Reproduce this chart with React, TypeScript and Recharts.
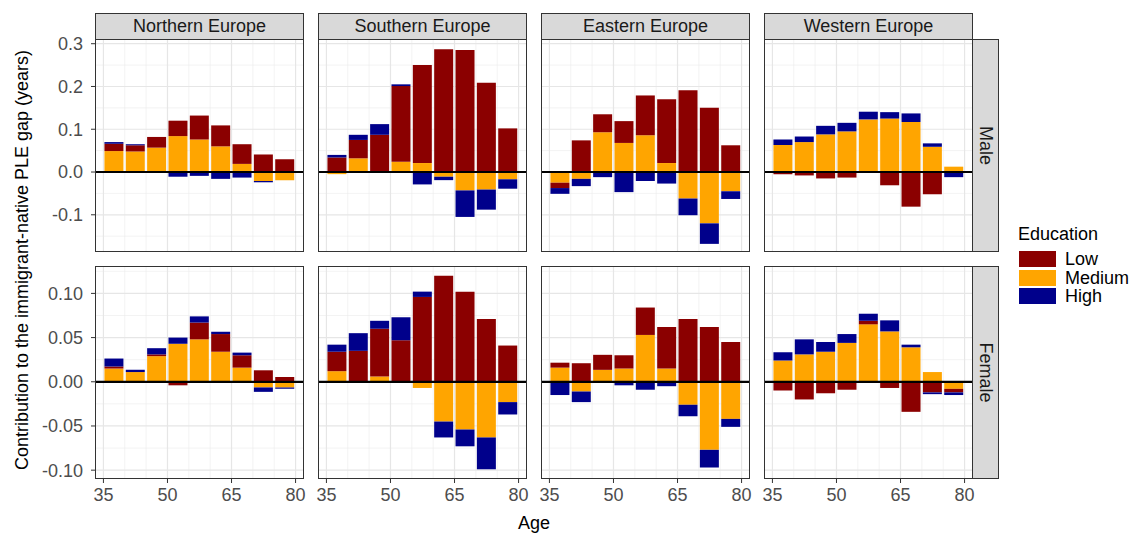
import React from 'react';
import { BarChart, Bar, XAxis, YAxis, CartesianGrid, ReferenceLine } from 'recharts';

const regions = ['Northern Europe', 'Southern Europe', 'Eastern Europe', 'Western Europe'];
const sexes = ['Male', 'Female'];
const ageMids = [37.5, 42.5, 47.5, 52.5, 57.5, 62.5, 67.5, 72.5, 77.5];
const ageTicks = [35, 50, 65, 80];
const educationLevels = ['Low', 'Medium', 'High'];
const maleTicks = [-0.1, 0, 0.1, 0.2, 0.3];
const femaleTicks = [-0.1, -0.05, 0, 0.05, 0.1];

// one row per region: Northern, Southern, Eastern, Western
const maleLow = [
  [0.017, 0.0145, 0.025, 0.036, 0.056, 0.049, 0.046, 0.041, 0.03],
  [0.034, 0.043, 0.087, 0.177, 0.229, 0.287, 0.285, 0.209, 0.102],
  [-0.0125, 0.074, 0.042, 0.051, 0.093, 0.149, 0.191, 0.15, 0.0625],
  [-0.005, -0.008, -0.015, -0.013, -0.002, -0.031, -0.081, -0.052, 0],
];
const maleMedium = [
  [0.049, 0.048, 0.057, 0.084, 0.076, 0.06, 0.019, -0.021, -0.019],
  [-0.005, 0.032, 0, 0.024, 0.021, -0.011, -0.043, -0.041, -0.017],
  [-0.025, -0.016, 0.093, 0.068, 0.086, 0.021, -0.062, -0.12, -0.045],
  [0.063, 0.07, 0.088, 0.095, 0.123, 0.125, 0.117, 0.059, 0.0125],
];
const maleHigh = [
  [0.004, 0.0025, -0.002, -0.011, -0.009, -0.016, -0.013, -0.003, 0],
  [0.006, 0.012, 0.025, 0.004, -0.029, -0.008, -0.062, -0.047, -0.022],
  [-0.0135, -0.017, -0.012, -0.047, -0.021, -0.027, -0.039, -0.048, -0.018],
  [0.013, 0.013, 0.02, 0.02, 0.018, 0.015, 0.02, 0.008, -0.012],
];
const femaleLow = [
  [0.0023, 0, 0.002, -0.004, 0.019, 0.02, 0.014, 0.013, 0.0053],
  [0.022, 0.035, 0.054, 0.047, 0.096, 0.12, 0.102, 0.071, 0.041],
  [0.0056, 0.021, 0.017, 0.015, 0.031, 0.047, 0.071, 0.062, 0.045],
  [-0.01, -0.02, -0.013, -0.009, 0.004, -0.007, -0.034, -0.012, -0.004],
];
const femaleMedium = [
  [0.015, 0.011, 0.029, 0.043, 0.048, 0.034, 0.016, -0.0064, -0.0064],
  [0.012, 0, 0.006, 0, -0.007, -0.045, -0.054, -0.063, -0.023],
  [0.016, -0.011, 0.0135, 0.015, 0.053, 0.015, -0.026, -0.077, -0.042],
  [0.024, 0.031, 0.034, 0.044, 0.065, 0.057, 0.039, 0.011, -0.008],
];
const femaleHigh = [
  [0.009, 0.0026, 0.007, 0.007, 0.007, 0.0026, 0.003, -0.005, -0.0016],
  [0.008, 0.02, 0.009, 0.026, 0.006, -0.018, -0.019, -0.036, -0.014],
  [-0.015, -0.012, 0, -0.004, -0.009, -0.005, -0.013, -0.02, -0.009],
  [0.0094, 0.017, 0.011, 0.01, 0.008, 0.0125, 0.003, -0.002, -0.003],
];

const colors: Record<string, string> = { Low: '#8B0000', Medium: '#FFA500', High: '#00008B' };

const FONT = '"Liberation Sans", Arial, Helvetica, sans-serif';
const PANEL_LEFT = [95, 318, 541, 764];
const PANEL_W = 209;
const ROW_TOP = [39, 266];
const PANEL_H = 213;
const STRIP = 26;
const Y_AXIS_W = 60;
const X_AXIS_H = 34;
const PAD = 14; // room so edge tick labels are not clipped
const X_DOMAIN: [number, number] = [33.025, 81.975];
const Y_DOMAINS: [number, number][] = [[-0.187, 0.311], [-0.11, 0.131]];

const xMajor = [35, 50, 65, 80];
const xMinor = [40, 45, 55, 60, 70, 75];
const yMajor = [maleTicks, femaleTicks];
const yMinor = [[-0.15, -0.05, 0.05, 0.15, 0.25], [-0.075, -0.025, 0.025, 0.075, 0.125]];

function Panel({ row, col }: { row: number; col: number }) {
  const low = row === 0 ? maleLow[col] : femaleLow[col];
  const med = row === 0 ? maleMedium[col] : femaleMedium[col];
  const high = row === 0 ? maleHigh[col] : femaleHigh[col];
  const data = ageMids.map((age, i) => ({ age, Low: low[i], Medium: med[i], High: high[i] }));
  const showY = col === 0;
  const showX = row === 1;
  const w = PANEL_W + (showY ? Y_AXIS_W : 0) + PAD * 2;
  const h = PANEL_H + (showX ? X_AXIS_H : 0) + PAD * 2;

  return (
    <div
      style={{
        position: 'absolute',
        left: PANEL_LEFT[col] - (showY ? Y_AXIS_W : 0) - PAD,
        top: ROW_TOP[row] - PAD,
      }}
    >
      <BarChart width={w} height={h} data={data} stackOffset="sign" margin={{ top: PAD, right: PAD, bottom: PAD, left: PAD }}>
        <CartesianGrid stroke="#EBEBEB" strokeWidth={0.6} horizontalValues={yMinor[row]} verticalValues={xMinor} />
        <CartesianGrid stroke="#E6E6E6" strokeWidth={1.2} horizontalValues={yMajor[row]} verticalValues={xMajor} />
        <XAxis
          type="number"
          dataKey="age"
          domain={X_DOMAIN}
          ticks={ageTicks}
          allowDataOverflow
          hide={!showX}
          height={X_AXIS_H}
          axisLine={false}
          tickSize={4}
          tickMargin={5}
          tickLine={{ stroke: '#333333' }}
          tick={{ fill: '#4D4D4D', fontSize: 18 }}
          interval={0}
        />
        <YAxis
          type="number"
          domain={Y_DOMAINS[row]}
          ticks={row === 0 ? maleTicks : femaleTicks}
          allowDataOverflow
          hide={!showY}
          width={Y_AXIS_W}
          axisLine={false}
          tickSize={4}
          tickMargin={8}
          tickLine={{ stroke: '#333333' }}
          tick={{ fill: '#4D4D4D', fontSize: 18 }}
          interval={0}
          tickFormatter={(v: number) => v.toFixed(row === 0 ? 1 : 2)}
        />
        <Bar dataKey="Medium" stackId="a" fill={colors.Medium} barSize={19} isAnimationActive={false} />
        <Bar dataKey="Low" stackId="a" fill={colors.Low} barSize={19} isAnimationActive={false} />
        <Bar dataKey="High" stackId="a" fill={colors.High} barSize={19} isAnimationActive={false} />
        <ReferenceLine y={0} stroke="#000000" strokeWidth={2.2} />
      </BarChart>
    </div>
  );
}

export default function App() {
  return (
    <div
      style={{
        position: 'absolute',
        left: 0,
        top: 0,
        width: 1133,
        height: 535,
        background: '#ffffff',
        fontFamily: FONT,
        overflow: 'hidden',
      }}
    >
      {sexes.map((_, row) => regions.map((_, col) => <Panel key={`${row}-${col}`} row={row} col={col} />))}

      {/* panel borders */}
      {sexes.map((_, row) =>
        regions.map((_, col) => (
          <div
            key={`b-${row}-${col}`}
            style={{
              position: 'absolute',
              left: PANEL_LEFT[col],
              top: ROW_TOP[row],
              width: PANEL_W,
              height: PANEL_H,
              border: '1px solid #333333',
              boxSizing: 'border-box',
              pointerEvents: 'none',
            }}
          />
        ))
      )}

      {/* top strips */}
      {regions.map((r, col) => (
        <div
          key={r}
          style={{
            position: 'absolute',
            left: PANEL_LEFT[col],
            top: ROW_TOP[0] - STRIP,
            width: PANEL_W,
            height: STRIP + 1,
            background: '#D9D9D9',
            border: '1px solid #333333',
            boxSizing: 'border-box',
            display: 'flex',
            alignItems: 'center',
            justifyContent: 'center',
            fontSize: 18,
            color: '#1A1A1A',
          }}
        >
          {r}
        </div>
      ))}

      {/* right strips */}
      {sexes.map((s, row) => (
        <div
          key={s}
          style={{
            position: 'absolute',
            left: PANEL_LEFT[3] + PANEL_W - 1,
            top: ROW_TOP[row],
            width: STRIP + 1,
            height: PANEL_H,
            background: '#D9D9D9',
            border: '1px solid #333333',
            boxSizing: 'border-box',
            display: 'flex',
            alignItems: 'center',
            justifyContent: 'center',
            fontSize: 18,
            color: '#1A1A1A',
          }}
        >
          <span style={{ transform: 'rotate(90deg)', whiteSpace: 'nowrap' }}>{s}</span>
        </div>
      ))}

      {/* axis titles */}
      <div
        style={{
          position: 'absolute',
          left: 22,
          top: 260,
          transform: 'translate(-50%, -50%) rotate(-90deg)',
          whiteSpace: 'nowrap',
          fontSize: 18,
          color: '#000000',
        }}
      >
        Contribution to the immigrant-native PLE gap (years)
      </div>
      <div
        style={{
          position: 'absolute',
          left: 534,
          top: 523,
          transform: 'translate(-50%, -50%)',
          fontSize: 18,
          color: '#000000',
        }}
      >
        Age
      </div>

      {/* legend */}
      <div style={{ position: 'absolute', left: 1018, top: 224, fontSize: 18, lineHeight: '20px' }}>Education</div>
      {educationLevels.map((lvl, i) => (
        <React.Fragment key={lvl}>
          <div
            style={{
              position: 'absolute',
              left: 1019,
              top: 251 + i * 18.5,
              width: 37,
              height: 16,
              background: colors[lvl],
            }}
          />
          <div
            style={{
              position: 'absolute',
              left: 1065,
              top: 250 + i * 18.5,
              fontSize: 18,
              lineHeight: '18px',
            }}
          >
            {lvl}
          </div>
        </React.Fragment>
      ))}
    </div>
  );
}
